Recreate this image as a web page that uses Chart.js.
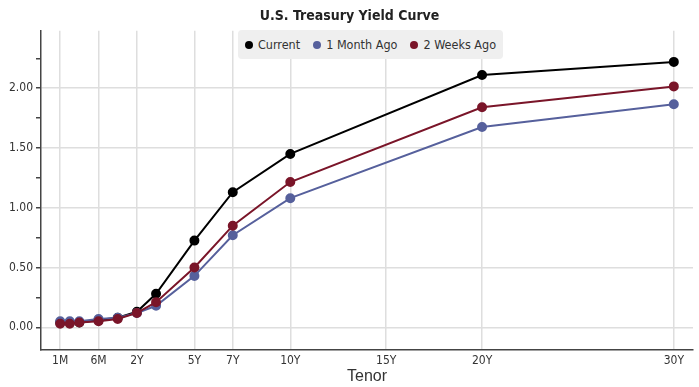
<!DOCTYPE html>
<html>
<head>
<meta charset="utf-8">
<script src="https://cdn.jsdelivr.net/npm/chart.js@4.4.1/dist/chart.umd.min.js"></script>
<style>
  body { margin: 0; background: #fff; }
  #wrap { position: relative; width: 699px; height: 387px; }
  #legend {
    position: absolute; left: 238px; top: 30px; width: 265px; height: 29px;
    background: #efefef; border-radius: 4px;
    font-family: "DejaVu Sans Condensed", "DejaVu Sans", sans-serif; font-size: 12.5px; color: #333;
    display: flex; align-items: center; justify-content: center; gap: 13px;
  }
  #legend span.dot { display: inline-block; width: 8px; height: 8px; border-radius: 50%; margin-right: 5px; vertical-align: 0px; }
</style>
</head>
<body>
<div id="wrap">
  <canvas id="myChart" width="699" height="387"></canvas>
  <div id="legend"></div>
</div>
<script>
// tenors and where they sit on the x axis (short end is stretched)
var tenors = ["1M", "2M", "3M", "6M", "1Y", "2Y", "3Y", "5Y", "7Y", "10Y", "20Y", "30Y"];
var tenorPos = [-2, -1.5, -1, 0, 1, 2, 3, 5, 7, 10, 20, 30];

var current = [0.04, 0.04, 0.04, 0.06, 0.08, 0.13, 0.28, 0.725, 1.13, 1.45, 2.11, 2.22];
var monthAgo = [0.05, 0.05, 0.05, 0.07, 0.08, 0.12, 0.18, 0.43, 0.77, 1.08, 1.675, 1.865];
var twoWeeksAgo = [0.03, 0.03, 0.04, 0.05, 0.07, 0.12, 0.21, 0.50, 0.85, 1.215, 1.84, 2.015];

var xTickPos = [-2, 0, 2, 5, 7, 10, 15, 20, 30];
var xTickLabels = ["1M", "6M", "2Y", "5Y", "7Y", "10Y", "15Y", "20Y", "30Y"];
var yTicks = [0, 0.25, 0.5, 0.75, 1, 1.25, 1.5, 1.75, 2, 2.25];

var seriesNames = ["Current", "1 Month Ago", "2 Weeks Ago"];
var seriesColors = ["#000000", "#56609c", "#7a1529"];
var seriesData = [current, monthAgo, twoWeeksAgo];

function toPoints(vals) {
  return vals.map(function (v, i) { return { x: tenorPos[i], y: v }; });
}

var datasets = seriesData.map(function (vals, i) {
  return {
    label: seriesNames[i],
    data: toPoints(vals),
    borderColor: seriesColors[i],
    backgroundColor: seriesColors[i],
    borderWidth: 2,
    pointRadius: 4,
    pointHoverRadius: 4,
    fill: false,
    tension: 0
  };
}).reverse(); // draw Current on top

var tickFont = { family: "'DejaVu Sans Condensed', 'DejaVu Sans', sans-serif", size: 12 };

var ctx = document.getElementById("myChart");
var myChart = new Chart(ctx, {
  type: "line",
  data: { datasets: datasets },
  options: {
    responsive: false,
    animation: false,
    devicePixelRatio: 1,
    layout: { padding: { left: 0, right: 0, top: 0, bottom: 1 } },
    plugins: {
      legend: { display: false },
      tooltip: { enabled: false },
      title: {
        display: true,
        text: "U.S. Treasury Yield Curve",
        color: "#222",
        font: { family: "'DejaVu Sans Condensed', sans-serif", size: 14, weight: "bold" },
        padding: { top: 8, bottom: 6 }
      }
    },
    scales: {
      x: {
        type: "linear",
        min: -3,
        max: 31,
        afterBuildTicks: function (scale) {
          scale.ticks = xTickPos.map(function (v) { return { value: v }; });
        },
        afterFit: function (scale) { scale.height = 36; },
        ticks: {
          autoSkip: false,
          maxRotation: 0,
          color: "#333",
          font: tickFont,
          padding: 4,
          callback: function (v) {
            var i = xTickPos.indexOf(v);
            return i >= 0 ? xTickLabels[i] : "";
          }
        },
        grid: { color: "#dedede", lineWidth: 1.5, drawTicks: false },
        border: { color: "#444", width: 1.5 },
        title: {
          display: true,
          text: "Tenor",
          color: "#333",
          font: { family: "'Liberation Sans', Arial, sans-serif", size: 16 },
          padding: { top: 0, bottom: 0 }
        }
      },
      y: {
        min: -0.19,
        max: 2.48,
        afterBuildTicks: function (scale) {
          scale.ticks = yTicks.map(function (v) { return { value: v }; });
        },
        afterFit: function (scale) { scale.width = 41; },
        ticks: {
          color: "#333",
          font: tickFont,
          padding: 3,
          callback: function (v) {
            return (Math.round(v * 100) % 50 === 0) ? v.toFixed(2) : "";
          }
        },
        grid: {
          color: function (c) {
            return (c.tick && Math.round(c.tick.value * 100) % 50 === 0) ? "#dedede" : "rgba(0,0,0,0)";
          },
          lineWidth: 1.5,
          tickColor: "#444",
          tickLength: 5
        },
        border: { color: "#444", width: 1.5 }
      }
    }
  }
});

// legend overlay inside the plot
var legendEl = document.getElementById("legend");
seriesNames.forEach(function (name, i) {
  var item = document.createElement("div");
  item.innerHTML = '<span class="dot" style="background:' + seriesColors[i] + '"></span>' + name;
  legendEl.appendChild(item);
});
</script>
</body>
</html>
